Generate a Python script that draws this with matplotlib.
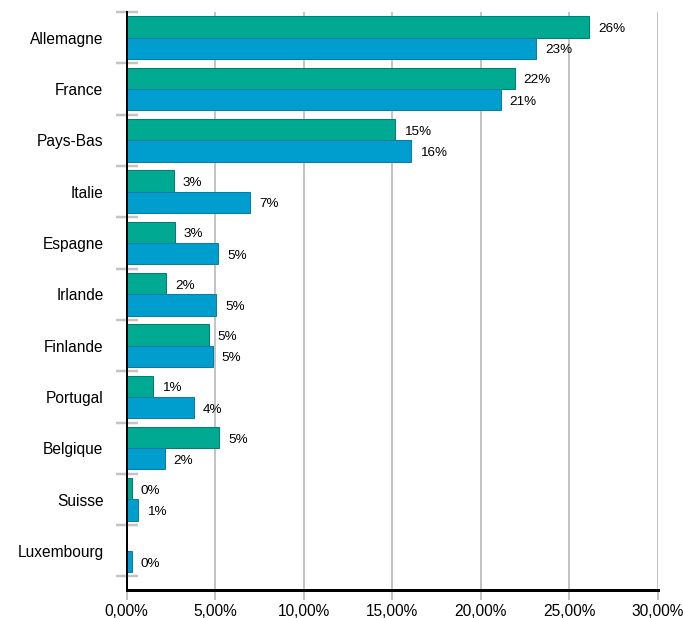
import numpy as np
import matplotlib.pyplot as plt
from matplotlib.ticker import FuncFormatter, FixedLocator

plt.rcParams['font.family'] = ['Liberation Sans', 'DejaVu Sans']

# donnees (en %)
pays = ['Allemagne', 'France', 'Pays-Bas', 'Italie', 'Espagne', 'Irlande',
        'Finlande', 'Portugal', 'Belgique', 'Suisse', 'Luxembourg']
serie_verte = [26.13, 21.92, 15.14, 2.66, 2.72, 2.25, 4.64, 1.48, 5.24, 0.31, np.nan]
serie_bleue = [23.12, 21.13, 16.05, 6.99, 5.17, 5.07, 4.88, 3.79, 2.16, 0.63, 0.29]

W, H = 683, 618
fig = plt.figure(figsize=(W / 100, H / 100), dpi=100)
ax = fig.add_axes([126.5 / W, 1 - 590 / H, (657.7 - 126.5) / W, (590 - 12) / H])

vert, vert_bord = '#00A992', '#00806F'
bleu, bleu_bord = '#009ECE', '#0B7DA3'
gris = '#C4C4C4'
px = 72 / 100  # un pixel en points

y = np.arange(len(pays))
h = 0.415
ax.barh(y - 0.207, serie_verte, height=h, color=vert, edgecolor=vert_bord, linewidth=1 * px, zorder=3)
ax.barh(y + 0.207, serie_bleue, height=h, color=bleu, edgecolor=bleu_bord, linewidth=1 * px, zorder=3)

# etiquettes de valeur, un peu sous le centre de la barre comme sur l'original
dx = 9 / 17.71
dy = 0.04
for yi, v in zip(y, serie_verte):
    if not np.isnan(v):
        ax.text(v + dx, yi - 0.207 + dy, f'{v:.0f}%', ha='left', va='center', fontsize=9.7, zorder=4)
for yi, v in zip(y, serie_bleue):
    if not np.isnan(v):
        ax.text(v + dx, yi + 0.207 + dy, f'{v:.0f}%', ha='left', va='center', fontsize=9.7, zorder=4)

ax.set_xlim(0, 30)
ax.set_ylim(10.5 + 13.5 / 51.3, -0.5)

# axe des x
ax.set_xticks(np.arange(0, 31, 5))
ax.xaxis.set_major_formatter(FuncFormatter(lambda v, p: f'{v:.2f}%'.replace('.', ',')))
ax.tick_params(axis='x', direction='out', length=10 * px, width=2 * px, color=gris,
               labelsize=11.2, pad=4 * px)
ax.grid(axis='x', color=gris, linewidth=2 * px, zorder=0)
ax.set_axisbelow(True)

# axe des y : traits aux limites des groupes, noms au centre
ax.yaxis.set_major_locator(FixedLocator(np.arange(-0.5, 11, 1)))
ax.yaxis.set_major_formatter(FuncFormatter(lambda v, p: ''))
ax.yaxis.set_minor_locator(FixedLocator(y))
ax.set_yticklabels(pays, minor=True)
ax.tick_params(axis='y', which='major', direction='inout', length=22 * px, width=2.5 * px, color=gris)
ax.tick_params(axis='y', which='minor', length=0, labelsize=11.2, pad=23 * px)

for s in ['top', 'right']:
    ax.spines[s].set_visible(False)
ax.spines['left'].set_linewidth(2 * px)
ax.spines['left'].set_color('black')
ax.spines['left'].set_zorder(5)
ax.spines['bottom'].set_linewidth(3 * px)
ax.spines['bottom'].set_color('black')

fig.savefig('out.png', dpi=100)
